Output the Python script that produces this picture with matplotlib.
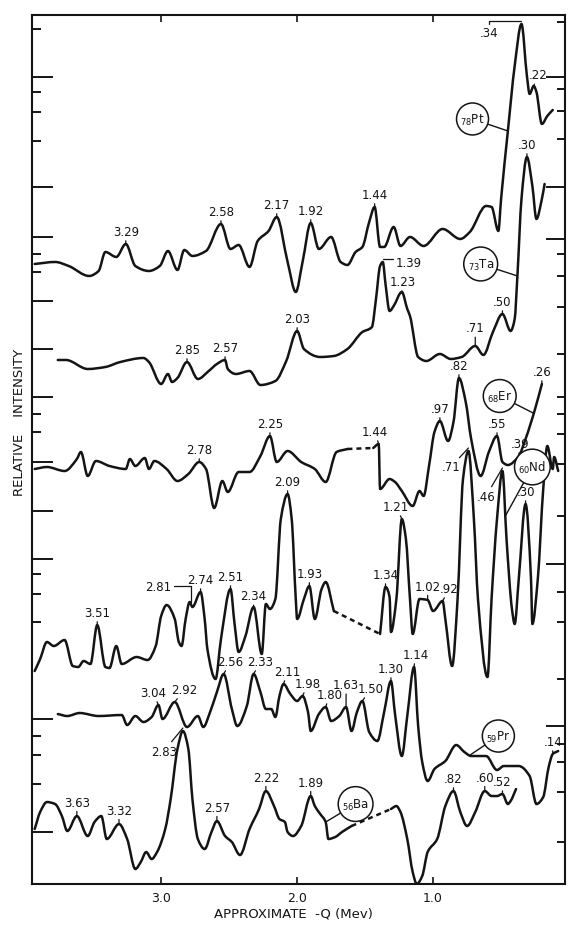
"""Stacked (d,p)-type spectra for six targets, redrawn from the scanned figure."""
import numpy as np
import matplotlib.pyplot as plt
from matplotlib.path import Path
from matplotlib.patches import PathPatch

# approximate -Q (MeV, common axis) and relative intensity
pt_q = [3.93, 3.78, 3.68, 3.53, 3.46, 3.41, 3.33, 3.26, 3.19, 3.09, 3.01, 2.95, 2.88, 2.83,
        2.77, 2.67, 2.56, 2.49, 2.43, 2.35, 2.29, 2.21, 2.15, 2.07, 2.01, 1.96, 1.90, 1.84,
        1.75, 1.68, 1.63, 1.57, 1.52, 1.47, 1.43, 1.39, 1.36, 1.29, 1.24, 1.17, 1.07, 0.93,
        0.80, 0.73, 0.61, 0.57, 0.52, 0.50, 0.45, 0.40, 0.35, 0.31, 0.29, 0.26, 0.24, 0.20,
        0.16, 0.12]
pt_i = [620, 622, 618, 608, 613, 632, 627, 640, 618, 613, 618, 633, 614, 634,
        628, 633, 660, 635, 639, 617, 643, 653, 667, 622, 592, 622, 661, 635,
        647, 622, 619, 632, 637, 662, 677, 637, 637, 657, 638, 647, 638, 655,
        645, 652, 678, 677, 653, 685, 753, 818, 860, 808, 790, 798, 792, 760,
        768, 774]

ta_q = [3.76, 3.70, 3.54, 3.41, 3.30, 3.13, 3.09, 3.00, 2.95, 2.92, 2.88, 2.81, 2.73, 2.65,
        2.59, 2.53, 2.51, 2.45, 2.35, 2.27, 2.16, 2.08, 2.00, 1.95, 1.83, 1.73, 1.63, 1.52,
        1.45, 1.42, 1.39, 1.37, 1.35, 1.32, 1.29, 1.23, 1.19, 1.17, 1.11, 1.05, 0.95, 0.87,
        0.79, 0.69, 0.63, 0.56, 0.49, 0.43, 0.40, 0.38, 0.35, 0.31, 0.27, 0.24, 0.20, 0.18]
ta_i = [524, 524, 515, 517, 522, 526, 522, 500, 510, 502, 506, 522, 505, 513,
        520, 524, 515, 510, 513, 499, 503, 523, 553, 535, 527, 528, 535, 552,
        557, 585, 618, 622, 600, 573, 578, 592, 575, 568, 527, 523, 530, 525,
        527, 538, 529, 552, 570, 553, 565, 608, 685, 727, 698, 665, 685, 700]

er_q = [3.93, 3.84, 3.71, 3.62, 3.59, 3.54, 3.48, 3.38, 3.26, 3.23, 3.19, 3.12, 3.09, 3.05,
        2.96, 2.88, 2.80, 2.72, 2.67, 2.61, 2.55, 2.51, 2.43, 2.35, 2.27, 2.20, 2.15, 2.07,
        1.97, 1.87, 1.79, 1.71, 1.63, 1.44, 1.40, 1.39, 1.32, 1.28, 1.23, 1.15, 1.10, 1.07,
        1.03, 0.99, 0.95, 0.89, 0.85, 0.81, 0.76, 0.72, 0.65, 0.59, 0.53, 0.49, 0.45, 0.37,
        0.32, 0.25, 0.20]
er_i = [415, 417, 413, 425, 432, 408, 423, 418, 415, 425, 418, 426, 415, 423,
        415, 403, 410, 422, 415, 376, 403, 392, 412, 412, 428, 448, 422, 433,
        422, 415, 402, 432, 435, 436, 440, 395, 405, 402, 393, 378, 393, 388,
        418, 452, 463, 443, 462, 506, 482, 445, 408, 432, 448, 422, 419, 428,
        445, 475, 500]

nd_q = [3.93, 3.89, 3.84, 3.79, 3.71, 3.65, 3.61, 3.57, 3.52, 3.47, 3.41, 3.38, 3.33, 3.29,
        3.18, 3.10, 3.04, 3.00, 2.96, 2.90, 2.87, 2.85, 2.82, 2.79, 2.77, 2.71, 2.68, 2.66,
        2.60, 2.56, 2.49, 2.46, 2.43, 2.38, 2.32, 2.26, 2.23, 2.20, 2.16, 2.12, 2.07, 2.04,
        2.01, 2.00, 1.95, 1.91, 1.87, 1.82, 1.79, 1.73, 1.39, 1.35, 1.32, 1.31, 1.27, 1.23,
        1.20, 1.17, 1.15, 1.10, 1.04, 1.00, 0.93, 0.91, 0.86, 0.82, 0.78, 0.74, 0.70, 0.67,
        0.60, 0.57, 0.53, 0.49, 0.46, 0.42, 0.40, 0.37, 0.32, 0.28, 0.27, 0.23, 0.19, 0.16,
        0.12, 0.11, 0.08]
nd_i = [213, 225, 242, 238, 244, 218, 217, 223, 220, 259, 217, 216, 238, 220,
        227, 224, 238, 268, 279, 265, 242, 238, 265, 282, 277, 292, 265, 235,
        205, 245, 295, 260, 232, 248, 277, 230, 280, 275, 285, 365, 390, 365,
        285, 265, 285, 298, 265, 295, 302, 273, 250, 297, 287, 252, 285, 365,
        345, 285, 250, 285, 284, 273, 283, 265, 218, 285, 405, 433, 365, 285,
        207, 285, 365, 413, 345, 275, 260, 305, 380, 305, 260, 305, 395, 438,
        415, 427, 413]

pr_q = [3.76, 3.69, 3.60, 3.46, 3.29, 3.25, 3.19, 3.13, 3.07, 3.02, 2.99, 2.90, 2.81, 2.73,
        2.69, 2.64, 2.59, 2.54, 2.48, 2.44, 2.37, 2.32, 2.27, 2.23, 2.19, 2.16, 2.13, 2.10,
        2.05, 2.00, 1.96, 1.92, 1.90, 1.84, 1.79, 1.75, 1.69, 1.64, 1.60, 1.56, 1.52, 1.47,
        1.41, 1.36, 1.31, 1.28, 1.23, 1.19, 1.14, 1.11, 1.08, 1.04, 0.99, 0.91, 0.83, 0.77,
        0.72, 0.61, 0.53, 0.48, 0.37, 0.29, 0.24, 0.19, 0.15, 0.12, 0.08]
pr_i = [170, 168, 171, 168, 169, 159, 168, 162, 167, 179, 165, 182, 157, 168,
        157, 172, 192, 210, 175, 158, 178, 210, 192, 175, 175, 167, 188, 200,
        190, 183, 188, 172, 153, 170, 177, 163, 168, 177, 153, 172, 183, 152,
        143, 172, 203, 170, 128, 168, 217, 158, 122, 103, 115, 123, 139, 132,
        128, 128, 114, 118, 118, 108, 80, 87, 117, 130, 133]

ba_q = [3.93, 3.89, 3.84, 3.78, 3.73, 3.69, 3.62, 3.54, 3.49, 3.44, 3.40, 3.31, 3.25, 3.19,
        3.15, 3.11, 3.07, 3.03, 2.97, 2.93, 2.88, 2.84, 2.80, 2.77, 2.73, 2.68, 2.63, 2.59,
        2.53, 2.48, 2.42, 2.35, 2.28, 2.23, 2.17, 2.13, 2.09, 2.07, 2.03, 1.97, 1.90, 1.87,
        1.83, 1.79, 1.77, 1.72, 1.67, 1.60, 1.31, 1.27, 1.24, 1.19, 1.15, 1.12, 1.08, 1.04,
        0.97, 0.91, 0.85, 0.80, 0.75, 0.69, 0.62, 0.57, 0.53, 0.49, 0.45, 0.43, 0.39]
ba_i = [55, 72, 82, 80, 68, 53, 68, 48, 62, 68, 45, 60, 45, 15,
        22, 32, 25, 32, 55, 85, 135, 153, 135, 85, 45, 35, 52, 63,
        48, 42, 29, 55, 75, 93, 78, 65, 62, 52, 48, 58, 88, 78,
        70, 62, 45, 47, 52, 58, 75, 78, 72, 45, 12, 0, 8, 32,
        45, 78, 93, 72, 58, 72, 93, 88, 88, 90, 80, 83, 95]

# q, intensity, and the stretch (if any) that the original draws dashed
traces = {
    "Pt": (pt_q, pt_i, None),
    "Ta": (ta_q, ta_i, None),
    "Er": (er_q, er_i, (1.63, 1.44)),
    "Nd": (nd_q, nd_i, (1.73, 1.39)),
    "Pr": (pr_q, pr_i, None),
    "Ba": (ba_q, ba_i, (1.60, 1.31)),
}
atomic_no = {"Pt": 78, "Ta": 73, "Er": 68, "Nd": 60, "Pr": 59, "Ba": 56}

# peak labels: trace, text, q of the peak, x/y text offset (points)
peak_labels = [
    ("Pt", "3.29", 3.26, 0, 9), ("Pt", "2.58", 2.56, 0, 9), ("Pt", "2.17", 2.15, 0, 9),
    ("Pt", "1.92", 1.90, 0, 9), ("Pt", "1.44", 1.43, 0, 9), ("Pt", ".22", 0.26, 3, 8),
    ("Ta", "2.85", 2.81, 0, 9), ("Ta", "2.57", 2.53, 0, 9), ("Ta", "2.03", 2.00, 0, 9),
    ("Ta", "1.23", 1.23, 1, 7.5), ("Ta", ".71", 0.69, 0, 13), ("Ta", ".50", 0.49, 0, 9),
    ("Ta", ".30", 0.31, 0, 9),
    ("Er", "2.78", 2.72, 0, 9), ("Er", "2.25", 2.20, 0, 9), ("Er", "1.44", 1.40, -3, 9),
    ("Er", ".97", 0.95, 0, 9), ("Er", ".82", 0.81, 0, 9), ("Er", ".55", 0.53, 0, 9),
    ("Er", ".39", 0.37, 1, 9), ("Er", ".26", 0.20, 0, 9),
    ("Nd", "3.51", 3.47, 0, 9), ("Nd", "2.74", 2.71, 0, 9), ("Nd", "2.51", 2.49, 0, 9),
    ("Nd", "2.34", 2.32, 0, 8), ("Nd", "2.09", 2.07, 0, 9), ("Nd", "1.93", 1.91, 0, 9),
    ("Nd", "1.34", 1.35, 0, 9), ("Nd", "1.21", 1.23, -4, 9), ("Nd", "1.02", 1.04, 0, 10),
    ("Nd", ".92", 0.93, 5, 9), ("Nd", ".30", 0.32, 0, 9),
    ("Pr", "3.04", 3.02, -4, 9), ("Pr", "2.92", 2.90, 7, 9), ("Pr", "2.56", 2.54, 5, 9),
    ("Pr", "2.33", 2.32, 5, 9), ("Pr", "2.11", 2.10, 3, 9), ("Pr", "1.98", 1.96, 4, 9),
    ("Pr", "1.80", 1.79, 3, 9), ("Pr", "1.63", 1.64, 0, 16), ("Pr", "1.50", 1.52, 6, 9),
    ("Pr", "1.30", 1.31, 0, 9), ("Pr", "1.14", 1.14, 1, 9), ("Pr", ".14", 0.12, 0, 9),
    ("Ba", "3.63", 3.62, 0, 10), ("Ba", "3.32", 3.31, 0, 10), ("Ba", "2.57", 2.59, 0, 10),
    ("Ba", "2.22", 2.23, 0, 10), ("Ba", "1.89", 1.90, 0, 10), ("Ba", ".82", 0.85, 0, 9),
    ("Ba", ".60", 0.62, 0, 10), ("Ba", ".52", 0.49, 0, 9),
]
# labels set off from their peak: trace, text, q of peak, text position, connector
offset_labels = [
    ("Pt", ".34", 0.35, (0.59, 851), "angle,angleA=90,angleB=0,rad=0"),
    ("Ta", "1.39", 1.37, (1.18, 621), "angle,angleA=90,angleB=0,rad=0"),
    ("Nd", "2.81", 2.78, (3.02, 298), "angle,angleA=0,angleB=90,rad=0"),
    ("Nd", ".71", 0.74, (0.87, 417), "arc3"),
    ("Nd", ".46", 0.49, (0.61, 388), "arc3"),
    ("Ba", "2.83", 2.84, (2.98, 133), "arc3"),
]
# circled nuclide tags: trace, circle centre, q where the pointer meets the trace
tags = [
    ("Pt", (0.71, 765), 0.45),
    ("Ta", (0.65, 620), 0.38),
    ("Er", (0.51, 488), 0.26),
    ("Nd", (0.27, 417), 0.47),
    ("Pr", (0.52, 148), 0.73),
    ("Ba", (1.57, 80), 1.79),
]

left_long = [807, 697, 647, 583, 535, 487, 422, 373, 325, 165, 52]
left_short = [855, 792, 772, 743, 630, 612, 470, 452, 310, 290, 262, 148, 129, 100]
right_long = [807, 697, 645, 320, 158]
right_short = [862, 795, 773, 745, 630, 608, 577, 530, 487, 470, 450, 420, 368,
               292, 262, 205, 140, 122, 92, 42]

INK = "#141414"


def smooth(xs, ys):
    """Monotone cubic (pchip-style) Bezier path through the read points."""
    x, y = np.asarray(xs, float), np.asarray(ys, float)
    h = np.diff(x)
    d = np.diff(y) / h
    m = np.empty_like(y)
    m[0], m[-1] = d[0], d[-1]
    for k in range(1, len(y) - 1):
        if d[k - 1] * d[k] <= 0:
            m[k] = 0.0
        else:
            w1 = 2 * abs(h[k]) + abs(h[k - 1])
            w2 = abs(h[k]) + 2 * abs(h[k - 1])
            m[k] = (w1 + w2) / (w1 / d[k - 1] + w2 / d[k])
    verts, codes = [(x[0], y[0])], [Path.MOVETO]
    for k in range(len(y) - 1):
        verts += [(x[k] + h[k] / 3, y[k] + m[k] * h[k] / 3),
                  (x[k + 1] - h[k] / 3, y[k + 1] - m[k + 1] * h[k] / 3),
                  (x[k + 1], y[k + 1])]
        codes += [Path.CURVE4] * 3
    return Path(verts, codes)


def level(name, q):
    xs, ys, _ = traces[name]
    return float(np.interp(q, xs[::-1], ys[::-1]))


fig = plt.figure(figsize=(5.68, 9.28), dpi=100)
ax = fig.add_axes([0.0563, 0.0463, 0.9384, 0.9365])
ax.set_xlim(3.95, 0.03)
ax.set_ylim(0, 869)

line = dict(fill=False, ec=INK, lw=1.8, joinstyle="round", capstyle="round")
for name, (xs, ys, gap) in traces.items():
    xs, ys = np.asarray(xs), np.asarray(ys)
    if gap is None:
        ax.add_patch(PathPatch(smooth(xs, ys), **line))
        continue
    k = int(np.where(xs == gap[0])[0][0])
    ax.add_patch(PathPatch(smooth(xs[:k + 1], ys[:k + 1]), **line))
    ax.plot(xs[k:k + 2], ys[k:k + 2], color=INK, lw=1.8, ls=(0, (2, 1.6)))
    ax.add_patch(PathPatch(smooth(xs[k + 1:], ys[k + 1:]), **line))

lab = dict(fontsize=8.5, color=INK, ha="center", va="center")
arrow = dict(arrowstyle="-", lw=0.9, color=INK, shrinkA=0, shrinkB=0)
for name, txt, q, dx, dy in peak_labels:
    ax.annotate(txt, xy=(q, level(name, q)), xytext=(dx, dy),
                textcoords="offset points", arrowprops=arrow, **lab)

for name, txt, q, pos, conn in offset_labels:
    ax.annotate(txt, xy=(q, level(name, q) + 3), xytext=pos,
                arrowprops=dict(arrow, connectionstyle=conn), **lab)

for name, centre, q in tags:
    ax.annotate(r"$_{%d}$%s" % (atomic_no[name], name), xy=(q, level(name, q)),
                xytext=centre, fontsize=8.5, color=INK, ha="center", va="center",
                bbox=dict(boxstyle="circle,pad=0.32", fc="white", ec=INK, lw=1.1),
                arrowprops=dict(arrow, lw=1.0))

for s in ax.spines.values():
    s.set_linewidth(1.5)
    s.set_color(INK)

ax.set_xticks([3.0, 2.0, 1.0], ["3.0", "2.0", "1.0"])
ax.tick_params(axis="x", direction="in", length=5, width=1.2, top=True,
               labelsize=9, pad=5, colors=INK)
ax.set_yticks(left_long)
ax.set_yticks(left_short, minor=True)
ax.tick_params(axis="y", which="major", direction="in", length=15, width=1.4,
               labelleft=False, colors=INK)
ax.tick_params(axis="y", which="minor", direction="in", length=6.5, width=1.4, colors=INK)

rax = ax.twinx()
rax.set_ylim(ax.get_ylim())
rax.set_yticks(right_long)
rax.set_yticks(right_short, minor=True)
rax.tick_params(axis="y", which="major", direction="in", length=14, width=1.4,
                labelright=False, colors=INK)
rax.tick_params(axis="y", which="minor", direction="in", length=6, width=1.4, colors=INK)
for s in rax.spines.values():
    s.set_visible(False)

fig.text(0.516, 0.008, "APPROXIMATE  -Q (Mev)", ha="center", va="bottom",
         fontsize=9.5, color=INK)
fig.text(0.035, 0.545, "RELATIVE    INTENSITY", ha="center", va="center",
         rotation=90, fontsize=9.5, color=INK)

fig.savefig("out.png", dpi=100)
